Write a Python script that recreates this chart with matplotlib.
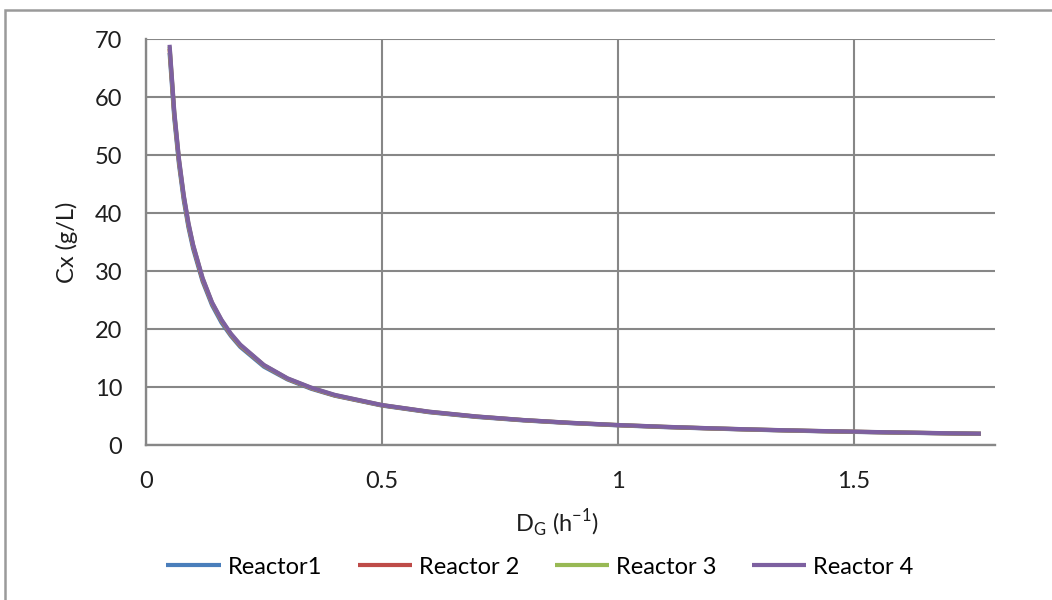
"""
Cx versus dilution rate D_G for four reactors
"""

import matplotlib
matplotlib.use("Agg")
import matplotlib.pyplot as plt
from matplotlib.patches import Rectangle

# dilution rate D_G (1/h)
dilution = [0.05, 0.06, 0.07, 0.08, 0.09, 0.10, 0.12, 0.14, 0.16, 0.18,
            0.20, 0.25, 0.30, 0.35, 0.40, 0.50, 0.60, 0.70, 0.80, 0.90,
            1.00, 1.10, 1.20, 1.30, 1.40, 1.50, 1.60, 1.70, 1.77]

# biomass concentration Cx (g/L)
cx_reactor1 = [67.6, 56.3, 48.3, 42.2, 37.5, 33.8, 28.2, 24.1, 21.1, 18.8,
               16.9, 13.5, 11.3, 9.7, 8.5, 6.8, 5.65, 4.84, 4.24, 3.77,
               3.39, 3.08, 2.83, 2.61, 2.42, 2.26, 2.12, 2.00, 1.92]
cx_reactor2 = [68.3, 56.9, 48.8, 42.7, 37.9, 34.2, 28.5, 24.4, 21.4, 19.0,
               17.1, 13.7, 11.4, 9.8, 8.55, 6.85, 5.7, 4.89, 4.28, 3.8,
               3.42, 3.11, 2.85, 2.63, 2.44, 2.28, 2.14, 2.01, 1.93]
cx_reactor3 = [68.7, 57.2, 49.1, 42.9, 38.1, 34.4, 28.7, 24.5, 21.5, 19.1,
               17.2, 13.75, 11.45, 9.85, 8.6, 6.88, 5.73, 4.91, 4.3, 3.82,
               3.44, 3.13, 2.87, 2.64, 2.45, 2.29, 2.15, 2.02, 1.94]
cx_reactor4 = [69.0, 57.5, 49.3, 43.1, 38.3, 34.5, 28.8, 24.6, 21.6, 19.2,
               17.3, 13.8, 11.5, 9.9, 8.65, 6.9, 5.75, 4.93, 4.31, 3.83,
               3.45, 3.14, 2.88, 2.65, 2.46, 2.30, 2.16, 2.03, 1.95]

labels = ["Reactor1", "Reactor 2", "Reactor 3", "Reactor 4"]
colors = ["#4A7EBB", "#BE4B48", "#98B954", "#7D60A0"]

plt.rcParams['font.family'] = ['Lato', 'DejaVu Sans']
FS = 17
TXT = "#1e1e1e"

W, H = 1052, 600
fig = plt.figure(figsize=(W / 100, H / 100), dpi=100)
ax = fig.add_axes([146 / W, 1 - 445 / H, (995 - 146) / W, (445 - 39) / H])

series = [cx_reactor1, cx_reactor2, cx_reactor3, cx_reactor4]
for cx, lab, col in zip(series, labels, colors):
    ax.plot(dilution, cx, color=col, linewidth=3.0, label=lab,
            solid_capstyle='butt')

ax.set_xlim(0, 1.8)
ax.set_ylim(0, 70)
ax.set_xticks([0, 0.5, 1, 1.5])
ax.set_xticklabels(["0", "0.5", "1", "1.5"])
ax.set_yticks(range(0, 71, 10))

grid_col = "#878787"
ax.grid(True, color=grid_col, linewidth=1.5)
ax.set_axisbelow(True)
for side in ("top", "right"):
    ax.spines[side].set_visible(False)
for side in ("left", "bottom"):
    ax.spines[side].set_color(grid_col)
    ax.spines[side].set_linewidth(1.7)
ax.tick_params(length=0, labelsize=FS, colors=TXT)
ax.tick_params(axis='x', pad=19)
ax.tick_params(axis='y', pad=17)

ax.set_xlabel(r"D$_\mathregular{G}$ (h$^\mathregular{-1}$)", fontsize=FS,
              color=TXT)
ax.xaxis.set_label_coords((557 - 146) / (995 - 146), -(508 - 445) / (445 - 39))
ax.set_ylabel("Cx (g/L)", fontsize=FS, color=TXT)
ax.yaxis.set_label_coords(-(146 - 78) / (995 - 146), 0.5)

fig.legend(loc='center', bbox_to_anchor=(540 / W, 1 - 567 / H), ncol=4,
           frameon=False, fontsize=FS, handlelength=2.3,
           handletextpad=0.3, columnspacing=1.5)

# outer chart border (partially cut off)
fig.patches.append(Rectangle((5 / W, -0.1), 1.2, 1 - 10 / H + 0.1,
                             transform=fig.transFigure, fill=False,
                             edgecolor="#9a9a9a", linewidth=1.8))

fig.savefig("out.png", dpi=100)
